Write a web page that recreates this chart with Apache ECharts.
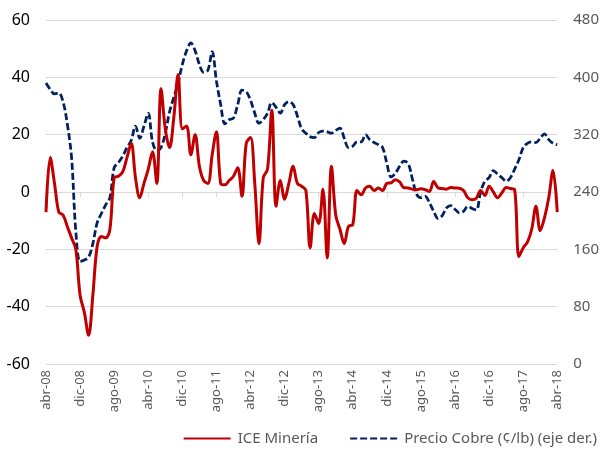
<!DOCTYPE html>
<html>
<head>
<meta charset="utf-8">
<script src="https://cdn.jsdelivr.net/npm/echarts@6/dist/echarts.min.js"></script>
<style>
  html, body { margin: 0; padding: 0; background: #fff; }
  #chart { width: 602px; height: 454px; }
</style>
</head>
<body>
<div id="chart"></div>
<script>
// meses abr-08 .. abr-18
const MONTHS = ['ene', 'feb', 'mar', 'abr', 'may', 'jun', 'jul', 'ago', 'sep', 'oct', 'nov', 'dic'];
const categories = [];
for (let k = 0; k <= 120; k++) {
    const m = (3 + k) % 12;
    const y = 8 + Math.floor((3 + k) / 12);
    categories.push(MONTHS[m] + '-' + String(y).padStart(2, '0'));
}

const iceMineria = [
    -7, 12, 3, -7, -8, -12, -16, -20, -36, -42,
    -50, -36, -19, -15.5, -16, -13, 5, 5.5, 7, 12,
    17, 5, -2, 3, 8, 14, 3, 36, 22, 15.5,
    26, 41, 22, 23, 13, 20, 9, 4, 3, 13,
    21, 3, 2.5, 4, 5.5, 8.5, -1.5, 17, 19, 3,
    -18, 5, 8, 28.5, -5, 4, -2.5, 3, 9, 3,
    2, 0.5, -19.5, -7.5, -11, 1, -23, 9, -8, -13,
    -18, -12, -11.4, 0.5, -1, 1.4, 2, 0.5, 1.4, 0.5,
    3, 3.2, 4.3, 3.5, 1.5, 1.4, 1, 0.8, 1.1, 0.8,
    0.2, 3.7, 1.5, 1.2, 1, 1.6, 1.4, 1.3, 0.5, -2,
    -2.7, -2.2, 0.5, -1.2, 2, 0, -2, -0.3, 1.6, 1.2,
    0.8, -22.5, -19.5, -17.5, -13, -5, -13.5, -9, -2, 7.5,
    -7
];

const precioCobre = [
    392, 383, 377, 378, 366, 335, 288, 185, 143, 145,
    149, 168, 197, 210, 222, 232, 274, 281, 290, 302,
    312, 332, 315, 332, 350, 310, 298, 302, 322, 352,
    372, 392, 418, 437, 448, 437, 418, 407, 410, 436,
    395, 362, 335, 341, 343, 362, 382, 380, 368, 350,
    336, 341, 350, 365, 358, 350, 362, 366, 362, 346,
    328, 322, 317, 316, 323, 325, 324, 322, 326, 329,
    315, 302, 304, 310, 310, 320, 313, 309, 306, 302,
    280, 261, 266, 276, 283, 280, 258, 237, 232, 234,
    225, 213, 203, 207, 218, 221, 216, 211, 213, 220,
    217, 215, 240, 255, 260, 270, 265, 260, 255, 260,
    272, 285, 302, 308, 310, 309, 315, 321, 313, 308,
    306
];

const FONT = 'Noto Sans';

const chart = echarts.init(document.getElementById('chart'));
chart.setOption({
    animation: false,
    textStyle: { fontFamily: FONT },
    grid: { left: 46, right: 42, top: 20, bottom: 90 },
    legend: {
        right: 0,
        bottom: 3,
        itemWidth: 47,
        itemHeight: 8,
        itemGap: 31,
        itemStyle: { opacity: 0 },
        textStyle: { color: '#595959', fontSize: 15, fontFamily: FONT, padding: [0, 0, 0, 2] },
        data: ['ICE Minería', 'Precio Cobre (¢/lb) (eje der.)']
    },
    xAxis: [{
        type: 'category',
        data: categories,
        boundaryGap: false,
        axisLine: { show: false, onZero: false },
        axisTick: { show: false },
        axisLabel: { interval: 7, rotate: 90, color: '#595959', fontSize: 13, margin: 6 }
    }, {
        type: 'category',
        data: categories,
        position: 'bottom',
        boundaryGap: false,
        axisLine: { show: true, onZero: true, lineStyle: { color: '#d9d9d9' } },
        axisTick: { show: true, interval: 7, length: 5, lineStyle: { color: '#d9d9d9' } },
        axisLabel: { show: false }
    }],
    yAxis: [{
        type: 'value',
        min: -60,
        max: 60,
        interval: 20,
        axisLine: { show: false },
        axisTick: { show: false },
        axisLabel: { color: '#000', fontSize: 16, margin: 16 },
        splitLine: { lineStyle: { color: '#d9d9d9', width: 1 } }
    }, {
        type: 'value',
        min: 0,
        max: 480,
        interval: 80,
        axisLine: { show: false },
        axisTick: { show: false },
        axisLabel: { color: '#595959', fontSize: 15, margin: 16 },
        splitLine: { show: false }
    }],
    series: [{
        name: 'ICE Minería',
        type: 'line',
        data: iceMineria,
        yAxisIndex: 0,
        smooth: 0.35,
        symbol: 'none',
        z: 3,
        lineStyle: { color: '#c00000', width: 3 },
        itemStyle: { color: '#c00000' }
    }, {
        name: 'Precio Cobre (¢/lb) (eje der.)',
        type: 'line',
        data: precioCobre,
        yAxisIndex: 1,
        smooth: 0.35,
        symbol: 'none',
        z: 2,
        lineStyle: { color: '#002060', width: 2.75, type: [7, 3] },
        itemStyle: { color: '#002060' }
    }]
});

window.addEventListener('resize', () => chart.resize());
</script>
</body>
</html>
